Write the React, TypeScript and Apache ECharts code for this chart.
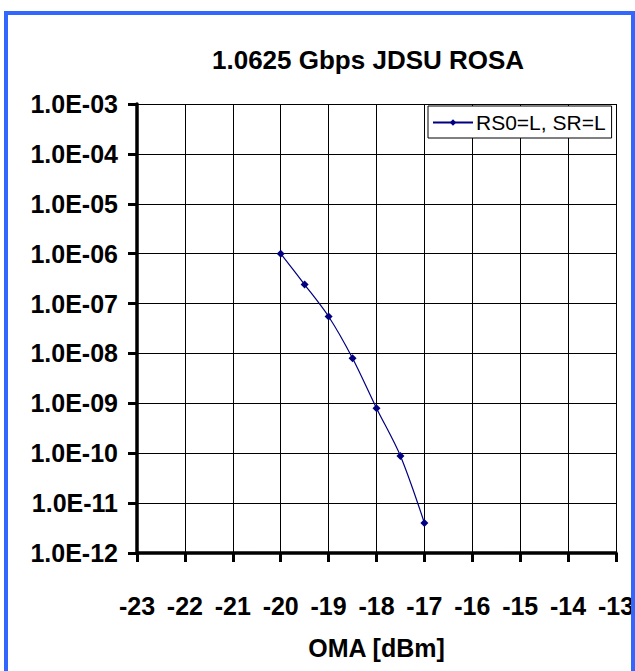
import React, { useEffect, useRef } from "react";
import * as echarts from "echarts";

const chartTitle = "1.0625 Gbps JDSU ROSA";
const seriesName = "RS0=L, SR=L";
const xAxisName = "OMA [dBm]";
const omaValues = [-20, -19.5, -19, -18.5, -18, -17.5, -17];
const berValues = [1.0e-6, 2.4e-7, 5.5e-8, 8.0e-9, 8.0e-10, 8.8e-11, 4.0e-12];
const yTickLabels = [
  "1.0E-12", "1.0E-11", "1.0E-10", "1.0E-09", "1.0E-08",
  "1.0E-07", "1.0E-06", "1.0E-05", "1.0E-04", "1.0E-03",
];
const xMin = -23;
const xMax = -13;

const FONT = "'Liberation Sans', Arial, Helvetica, sans-serif";

export default function App() {
  const ref = useRef<HTMLDivElement>(null);
  useEffect(() => {
    if (!ref.current) return;
    const chart = echarts.init(ref.current, null, { renderer: "svg" });
    const data = omaValues.map((x, i) => [x, berValues[i]]);
    chart.setOption({
      animation: false,
      backgroundColor: "#ffffff",
      title: {
        text: chartTitle,
        left: 212,
        top: 47,
        padding: 0,
        textStyle: { fontFamily: FONT, fontWeight: "bold", fontSize: 26, color: "#000" },
      },
      graphic: [
        {
          type: "rect",
          shape: { x: 6, y: 13, width: 627, height: 700 },
          style: { fill: "none", stroke: "#3366FF", lineWidth: 4 },
          silent: true,
          z: 100,
        },
      ],
      legend: {
        left: 428,
        top: 106,
        orient: "vertical",
        backgroundColor: "#fff",
        borderColor: "#000",
        borderWidth: 1,
        borderRadius: 0,
        padding: [6, 6, 5, 4],
        itemWidth: 40,
        itemHeight: 8,
        textStyle: { fontFamily: FONT, fontSize: 21, color: "#000", padding: [0, 0, 0, -2] },
        data: [{ name: seriesName }],
      },
      grid: {
        left: 137,
        right: 19,
        top: 104,
        bottom: 118,
        containLabel: false,
        outerBoundsMode: "none",
      },
      xAxis: {
        type: "value",
        min: xMin,
        max: xMax,
        interval: 1,
        name: xAxisName,
        nameLocation: "middle",
        nameGap: 82,
        nameTextStyle: { fontFamily: FONT, fontWeight: "bold", fontSize: 25, color: "#000" },
        axisLine: { show: true, onZero: false, lineStyle: { color: "#000", width: 3.5 } },
        axisTick: { show: true, inside: false, length: 9, lineStyle: { color: "#000", width: 3 } },
        axisLabel: {
          margin: 40,
          fontFamily: FONT,
          fontWeight: "bold",
          fontSize: 25,
          color: "#000",
          formatter: (v: number) => String(v),
        },
        splitLine: { show: true, lineStyle: { color: "#000", width: 1 } },
      },
      yAxis: {
        type: "log",
        logBase: 10,
        min: 1e-12,
        max: 1e-3,
        axisLine: { show: true, onZero: false, lineStyle: { color: "#000", width: 3.5 } },
        axisTick: { show: true, inside: false, length: 9, lineStyle: { color: "#000", width: 3 } },
        axisLabel: {
          margin: 19,
          fontFamily: FONT,
          fontWeight: "bold",
          fontSize: 25,
          color: "#000",
          formatter: (v: number) => {
            const idx = Math.round(Math.log10(v)) + 12;
            return yTickLabels[idx] ?? "";
          },
        },
        splitLine: { show: true, lineStyle: { color: "#000", width: 1 } },
        minorTick: { show: false },
      },
      series: [
        {
          name: seriesName,
          type: "line",
          data,
          smooth: 0.3,
          symbol: "diamond",
          symbolSize: 8,
          color: "#000080",
          lineStyle: { color: "#000080", width: 1.2 },
          itemStyle: { color: "#000080" },
        },
      ],
    });
    return () => chart.dispose();
  }, []);
  return (
    <div
      ref={ref}
      style={{ position: "fixed", left: 0, top: 0, width: 635, height: 671, background: "#fff" }}
    />
  );
}
